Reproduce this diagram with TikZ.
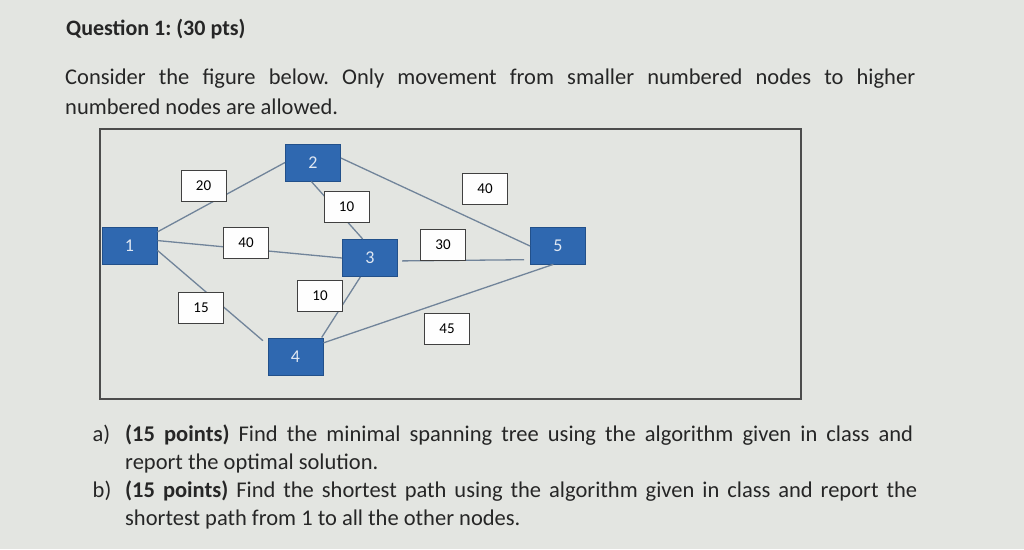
\documentclass[tikz,border=0pt]{standalone}
\usepackage{fontspec}
\setmainfont{Carlito}
\frenchspacing
\definecolor{pagebg}{HTML}{E3E5E1}
\definecolor{inkgray}{HTML}{262626}
\definecolor{vtxblue}{HTML}{2F68B0}
\definecolor{vtxedge}{HTML}{22508A}
\definecolor{arcgray}{HTML}{71849A}

\begin{document}
\begin{tikzpicture}[x=1pt,y=-1pt,
    vtx/.style={draw=vtxedge,fill=vtxblue,line width=1pt,minimum width=55pt,
        minimum height=37pt,inner sep=0pt,text=white!85!vtxblue,font=\fontsize{18}{18}\selectfont},
    wbox/.style={draw=black!75,fill=white!96!pagebg,line width=1pt,minimum width=45pt,
        minimum height=31pt,inner sep=0pt,font=\fontsize{15}{15}\selectfont},
    arc/.style={draw=arcgray,line width=1.3pt},
    txt/.style={anchor=base west,inner sep=0pt,text=inkgray,font=\fontsize{22.5}{22.5}\selectfont}]
    		\path[use as bounding box,fill=pagebg] (0,0) rectangle (1024,549);

    		% question text
    		\node[txt,font=\fontsize{22}{22}\selectfont] (title) at (66,35) {\textbf{Question 1: (30 pts)}};
    		\node[txt] (intro) at (65,84)
					{\makebox[850pt][s]{Consider the figure below. Only movement from smaller numbered nodes to higher}};
    		\node[txt] (introb) at (65,114) {numbered nodes are allowed.};

    		% the network
    		\draw[black!70,line width=1.5pt] (100,129) rectangle (801,399);

    		\node[vtx] (n1) at (129.5,245.5) {1};
    		\node[vtx] (n2) at (313,162.5) {2};
    		\node[vtx] (n3) at (370,258) {3};
    		\node[vtx] (n4) at (295.5,356.5) {4};
    		\node[vtx] (n5) at (558,246) {5};

    		\draw[arc] (n1.26) -- (n2.west);
    		\draw[arc] (n1.10) -- (n3.west);
    		\draw[arc,shorten >=6pt] (n1.-10) -- (n4.157);
    		\draw[arc] (n2.-95) -- (n3.111);
    		\draw[arc] (n3.-117) -- (n4.36);
    		\draw[arc] (n2.9) -- (n5.west);
    		\draw[arc,shorten <=4pt,shorten >=6pt] (n3.-6) -- (n5.206);
    		\draw[arc,shorten >=-2pt] (n4.26) -- (n5.-109);

    		\node[wbox] (w12) at (203.5,185.5) {20};
    		\node[wbox] (w23) at (346.5,206.5) {10};
    		\node[wbox] (w13) at (246,243) {40};
    		\node[wbox] (w14) at (201,308) {15};
    		\node[wbox] (w34) at (320,296) {10};
    		\node[wbox] (w25) at (485,189) {40};
    		\node[wbox] (w35) at (443,244.5) {30};
    		\node[wbox] (w45) at (447,328.5) {45};

    		% the two parts
    		\node[txt] (pa) at (92.5,441.5) {a)};
    		\node[txt] (pai) at (125,441.5)
					{\makebox[788pt][s]{\textbf{(15 points)} Find the minimal spanning tree using the algorithm given in class and}};
    		\node[txt] (paii) at (125,469.5) {report the optimal solution.};
    		\node[txt] (pb) at (92.5,497.5) {b)};
    		\node[txt] (pbi) at (125,497.5)
					{\makebox[792pt][s]{\textbf{(15 points)} Find the shortest path using the algorithm given in class and report the}};
    		\node[txt] (pbii) at (125,525) {shortest path from 1 to all the other nodes.};
    	\end{tikzpicture}
\end{document}
